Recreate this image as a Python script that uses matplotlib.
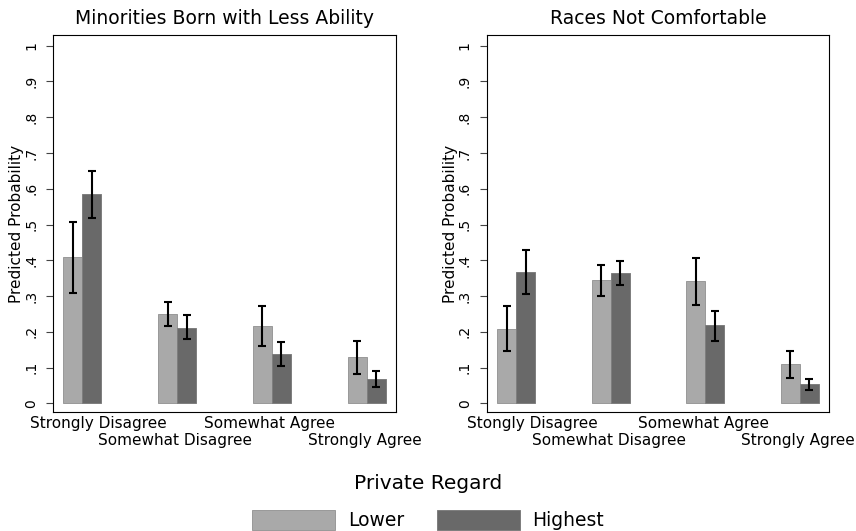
import matplotlib
matplotlib.use("Agg")
import matplotlib.pyplot as plt
import matplotlib.transforms as mtransforms
import numpy as np

# predicted probabilities with 95% CIs, by private regard level
cats_left = ["Strongly Disagree", "Somewhat Disagree", "Somewhat Agree", "Strongly Agree"]
cats_right = ["Stongly Disagree", "Somewhat Disagree", "Somewhat Agree", "Strongly Agree"]

ability_lower = [0.409, 0.250, 0.216, 0.129]
ability_lower_lo = [0.309, 0.215, 0.159, 0.082]
ability_lower_hi = [0.508, 0.283, 0.273, 0.174]
ability_high = [0.585, 0.212, 0.138, 0.068]
ability_high_lo = [0.517, 0.179, 0.103, 0.047]
ability_high_hi = [0.650, 0.247, 0.171, 0.089]

comfort_lower = [0.209, 0.344, 0.341, 0.109]
comfort_lower_lo = [0.146, 0.301, 0.275, 0.071]
comfort_lower_hi = [0.271, 0.387, 0.407, 0.146]
comfort_high = [0.368, 0.364, 0.218, 0.053]
comfort_high_lo = [0.307, 0.331, 0.174, 0.037]
comfort_high_hi = [0.429, 0.398, 0.259, 0.068]

yticks = [0, .1, .2, .3, .4, .5, .6, .7, .8, .9, 1]
ytick_labels = ["0", ".1", ".2", ".3", ".4", ".5", ".6", ".7", ".8", ".9", "1"]

LIGHT = "#a9a9a9"
DARK = "#696969"


def panel(ax, title, cats, lo, lo_l, lo_h, hi, hi_l, hi_h):
    x = np.arange(len(cats))
    w = 0.2
    ax.bar(x - w / 2, lo, w, color=LIGHT, edgecolor="#999999", linewidth=0.7, label="Lower")
    ax.bar(x + w / 2, hi, w, color=DARK, edgecolor="#7e7e7e", linewidth=0.7, label="Highest")
    lo, hi = np.array(lo), np.array(hi)
    ax.errorbar(x - w / 2, lo, yerr=[lo - np.array(lo_l), np.array(lo_h) - lo],
                fmt="none", ecolor="black", elinewidth=1.5, capsize=3, capthick=1.5)
    ax.errorbar(x + w / 2, hi, yerr=[hi - np.array(hi_l), np.array(hi_h) - hi],
                fmt="none", ecolor="black", elinewidth=1.5, capsize=3, capthick=1.5)

    ax.set_xlim(-0.31, 3.31)
    ax.set_ylim(-0.0243, 1.03)
    ax.set_yticks(yticks)
    ax.set_yticklabels(ytick_labels, rotation=90, va="center", fontsize=10)
    ax.tick_params(axis="y", length=4.7, width=0.8, color="#444444", pad=6)
    ax.set_ylabel("Predicted Probability", fontsize=11, labelpad=0)
    ax.set_title(title, fontsize=13.5, pad=8)

    # staggered category labels
    ax.set_xticks(x)
    ax.set_xticklabels(cats, fontsize=11)
    ax.tick_params(axis="x", length=0, pad=3)
    fig = ax.figure
    for i, t in enumerate(ax.get_xticklabels()):
        dx = 16 / 100 if i == 0 else -2 / 100
        dy = -17 / 100 if i % 2 else 0
        t.set_transform(t.get_transform() + mtransforms.ScaledTranslation(dx, dy, fig.dpi_scale_trans))
    for s in ax.spines.values():
        s.set_linewidth(0.8)


fig = plt.figure(figsize=(8.56, 5.31), dpi=100)
ax1 = fig.add_axes([0.0619, 0.2241, 0.4007, 0.710])
ax2 = fig.add_axes([0.5686, 0.2241, 0.4002, 0.710])

panel(ax1, "Minorities Born with Less Ability", cats_left,
      ability_lower, ability_lower_lo, ability_lower_hi,
      ability_high, ability_high_lo, ability_high_hi)
panel(ax2, "Races Not Comfortable", cats_right,
      comfort_lower, comfort_lower_lo, comfort_lower_hi,
      comfort_high, comfort_high_lo, comfort_high_hi)

handles, labels = ax1.get_legend_handles_labels()
leg = fig.legend(handles, labels, loc="lower center", bbox_to_anchor=(0.5, 0.0), ncol=2,
                 frameon=False, fontsize=13.5, title="Private Regard", title_fontsize=14.5,
                 handlelength=4.43, handleheight=1.23, handletextpad=0.69, columnspacing=1.74,
                 labelspacing=0.9, borderpad=0.05, borderaxespad=0.0)

fig.savefig("out.png", dpi=100)
